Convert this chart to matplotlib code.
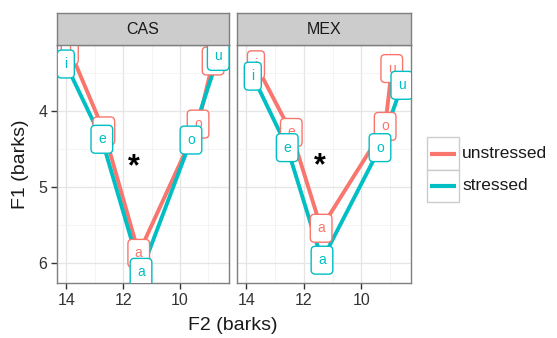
import matplotlib
matplotlib.use("Agg")
import matplotlib.pyplot as plt
from matplotlib.lines import Line2D
from matplotlib.patches import Rectangle

plt.rcParams['font.family'] = ['Liberation Sans', 'DejaVu Sans']

vowels = ['i', 'e', 'a', 'o', 'u']
panels = ['CAS', 'MEX']
groups = ['unstressed', 'stressed']
colors = {'unstressed': '#F8766D', 'stressed': '#00BFC4'}

cas_unstressed_f2 = [13.88, 12.68, 11.45, 9.36, 8.83]
cas_unstressed_f1 = [3.20, 4.26, 5.87, 4.17, 3.34]
cas_stressed_f2 = [14.02, 12.75, 11.37, 9.61, 8.65]
cas_stressed_f1 = [3.38, 4.37, 6.12, 4.38, 3.28]
mex_unstressed_f2 = [13.67, 12.44, 11.40, 9.17, 8.94]
mex_unstressed_f1 = [3.39, 4.28, 5.54, 4.20, 3.44]
mex_stressed_f2 = [13.78, 12.58, 11.37, 9.35, 8.59]
mex_stressed_f1 = [3.54, 4.48, 5.96, 4.48, 3.66]
star_f2 = [11.62, 11.46]
star_f1 = [4.66, 4.65]

data = {
    'CAS': {'unstressed': (cas_unstressed_f2, cas_unstressed_f1),
            'stressed': (cas_stressed_f2, cas_stressed_f1)},
    'MEX': {'unstressed': (mex_unstressed_f2, mex_unstressed_f1),
            'stressed': (mex_stressed_f2, mex_stressed_f1)},
}

W, H = 557, 338
fig = plt.figure(figsize=(W / 100, H / 100), dpi=100)

def fx(px):
    return px / W

def fy(py):
    return 1 - py / H

panel_px = [(57, 229), (237, 411)]
top_px, bot_px, strip_top_px = 45, 283, 13
border = '#7f7f7f'

axes = []
for k, (name, (x0, x1)) in enumerate(zip(panels, panel_px)):
    ax = fig.add_axes([fx(x0), fy(bot_px), (x1 - x0) / W, (bot_px - top_px) / H])
    axes.append(ax)
    ax.set_xlim(14.33, 8.27)
    ax.set_ylim(6.26, 3.13)
    ax.set_xticks([14, 12, 10])
    ax.set_xticks([13, 11, 9], minor=True)
    ax.set_yticks([4, 5, 6])
    ax.set_yticks([3.5, 4.5, 5.5], minor=True)
    ax.grid(which='major', color='#E5E5E5', linewidth=0.9)
    ax.grid(which='minor', color='#F2F2F2', linewidth=0.6)
    ax.set_axisbelow(True)
    for s in ax.spines.values():
        s.set_color(border)
        s.set_linewidth(1.0)
    ax.tick_params(which='major', direction='out', length=4, width=1,
                   color='#333333', labelsize=11.5, labelcolor='#333333', pad=3)
    ax.tick_params(which='minor', length=0)
    if k > 0:
        ax.tick_params(axis='y', which='both', left=False, labelleft=False)

    for g in groups:
        xs, ys = data[name][g]
        ax.plot(xs, ys, color=colors[g], linewidth=2.8, solid_capstyle='butt', zorder=2)
    for g in groups:
        xs, ys = data[name][g]
        for v, x, y in zip(vowels, xs, ys):
            ax.text(x, y, v, color=colors[g], fontsize=10, ha='center', va='center',
                    clip_on=True, zorder=3,
                    bbox=dict(boxstyle='round,pad=0.5,rounding_size=0.3', fc='white',
                              ec=colors[g], lw=1.0))
    ax.text(star_f2[k], star_f1[k] + 0.08, '*', fontsize=22, fontweight='bold',
            ha='center', va='center', color='black', zorder=4)

    # strip
    sax = fig.add_axes([fx(x0), fy(top_px), (x1 - x0) / W, (top_px - strip_top_px) / H])
    sax.set_facecolor('#CCCCCC')
    sax.set_xticks([])
    sax.set_yticks([])
    for s in sax.spines.values():
        s.set_color(border)
        s.set_linewidth(1.0)
    sax.text(0.5, 0.5, name, ha='center', va='center', fontsize=11.5, color='#1a1a1a',
             transform=sax.transAxes)

fig.text(fx(233), fy(326), 'F2 (barks)', ha='center', va='center', fontsize=14,
         color='#1a1a1a')
fig.text(fx(21), fy(164), 'F1 (barks)', ha='center', va='center', fontsize=14,
         rotation=90, color='#1a1a1a')

# legend
key_x0, key_x1 = 427, 459
key_rows = [(137, 170), (170, 202)]
for g, (y0, y1) in zip(groups, key_rows):
    fig.add_artist(Rectangle((fx(key_x0), fy(y1)), (key_x1 - key_x0) / W, (y1 - y0) / H,
                             transform=fig.transFigure, fc='white', ec='#CCCCCC', lw=1.0))
    ym = (y0 + y1) / 2
    fig.add_artist(Line2D([fx(430), fx(456)], [fy(ym), fy(ym)], transform=fig.transFigure,
                          color=colors[g], linewidth=3.0, solid_capstyle='butt'))
    fig.text(fx(462), fy(ym), g, ha='left', va='center', fontsize=12.5, color='#1a1a1a')

fig.savefig('out.png', dpi=100)
